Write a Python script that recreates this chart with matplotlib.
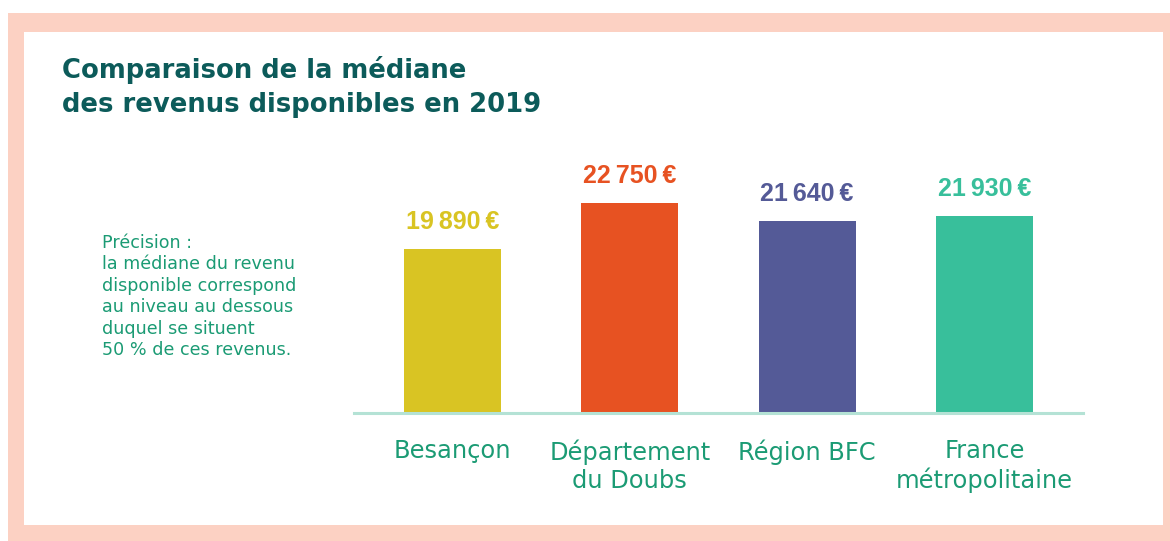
import matplotlib.pyplot as plt
from matplotlib.patches import Rectangle

# data
categories = ["Besançon", "Département\ndu Doubs", "Région BFC", "France\nmétropolitaine"]
values = [19890, 22750, 21640, 21930]
value_labels = ["19\u2009890\u2009€", "22\u2009750\u2009€", "21\u2009640\u2009€", "21\u2009930\u2009€"]
bar_colors = ["#d9c423", "#e75222", "#545a97", "#38bf9b"]

title = "Comparaison de la médiane\ndes revenus disponibles en 2019"
note = ("Précision :\nla médiane du revenu\ndisponible correspond\n"
        "au niveau au dessous\nduquel se situent\n50 % de ces revenus.")

W, H = 1170, 541
fig = plt.figure(figsize=(W / 100, H / 100), dpi=100)
fig.patch.set_facecolor("white")

# frame
fig.patches.append(Rectangle((8 / W, 0), (W - 8) / W, 1 - 13 / H,
                             transform=fig.transFigure, facecolor="#fcd1c3",
                             edgecolor="none", zorder=-3))
fig.patches.append(Rectangle((24 / W, 1 - 525 / H), (1163 - 24) / W, (525 - 32) / H,
                             transform=fig.transFigure, facecolor="white",
                             edgecolor="none", zorder=-2))

fig.text(62 / W, 1 - 56 / H, title, fontsize=18.6, fontweight="bold",
         color="#0c5b5a", family="DejaVu Sans", va="top", ha="left",
         linespacing=1.4)

fig.text(102 / W, 1 - 234 / H, note, fontsize=12.6, color="#1b9b74",
         family="DejaVu Sans", va="top", ha="left", linespacing=1.25)

ax = fig.add_axes([354 / W, 1 - 413 / H, (1083 - 354) / W, (413 - 150) / H])
ax.set_zorder(1)
ax.patch.set_alpha(0)
x = range(len(values))
bars = ax.bar(x, values, width=0.548, color=bar_colors, zorder=2)
ax.set_xlim(-0.556, 3.556)
ax.set_ylim(9700, 9700 + 263 / 0.01608)

for rect, lab, col in zip(bars, value_labels, bar_colors):
    ax.annotate(lab, (rect.get_x() + rect.get_width() / 2, rect.get_height()),
                xytext=(0, 14.6), textcoords="offset points", ha="center",
                va="baseline", fontsize=18, fontweight="bold", color=col,
                family=["Liberation Sans", "DejaVu Sans"])

for s in ["top", "left", "right"]:
    ax.spines[s].set_visible(False)
ax.spines["bottom"].set_color("#b4e2d5")
ax.spines["bottom"].set_linewidth(2.2)
ax.spines["bottom"].set_zorder(3)
ax.set_yticks([])
ax.set_xticks(list(x))
ax.set_xticklabels(categories, fontsize=17.4, color="#1b9b74",
                   family="DejaVu Sans", linespacing=1.2)
ax.tick_params(axis="x", length=0, pad=19)

fig.savefig("out.png", dpi=100)
